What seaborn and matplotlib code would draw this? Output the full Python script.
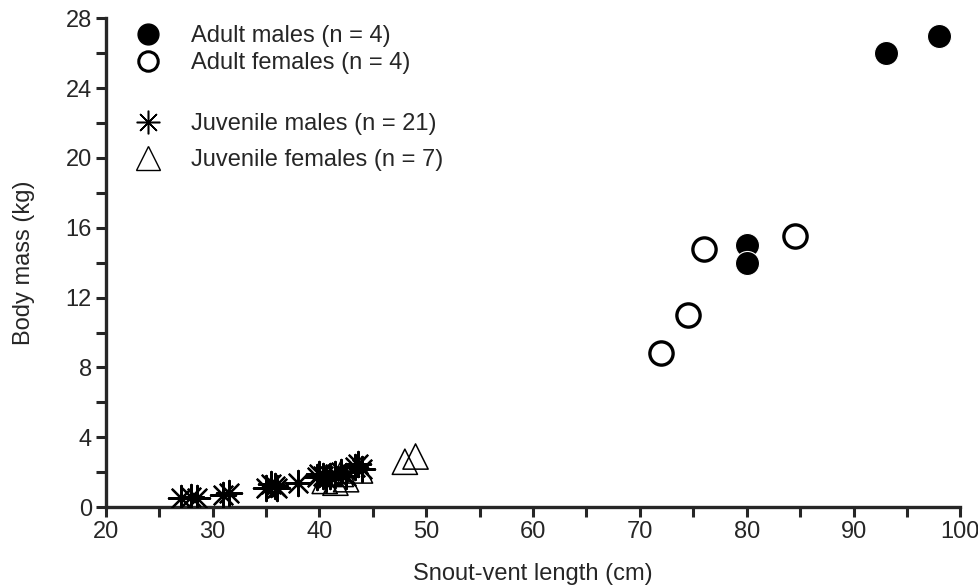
import seaborn as sns
import matplotlib.pyplot as plt
import pandas as pd
from matplotlib.lines import Line2D

# Snout-vent length (cm) and body mass (kg) per group
am_svl = [80, 80, 93, 98]
am_mass = [15.0, 14.0, 26.0, 27.0]

af_svl = [72, 74.5, 76, 84.5]
af_mass = [8.8, 11.0, 14.8, 15.5]

jm_svl = [27.0, 28.0, 28.5, 31.0, 31.5, 35.0, 35.5, 35.8, 36.0, 38.0, 39.8,
          40.0, 40.3, 40.6, 41.0, 41.5, 42.0, 42.5, 43.3, 43.6, 44.0]
jm_mass = [0.5, 0.6, 0.55, 0.7, 0.8, 1.1, 1.3, 1.2, 1.1, 1.4, 1.7,
           1.9, 1.8, 1.6, 1.8, 1.9, 2.0, 1.8, 2.3, 2.5, 2.2]

jf_svl = [40.5, 41.5, 42.0, 42.5, 43.8, 48.0, 49.0]
jf_mass = [1.5, 1.4, 1.9, 1.6, 2.1, 2.6, 2.9]

labels = ['Adult males (n = 4)', 'Adult females (n = 4)',
          'Juvenile males (n = 21)', 'Juvenile females (n = 7)']

sns.set_style('ticks')
plt.rcParams['font.family'] = ['Liberation Sans', 'DejaVu Sans']

fig = plt.figure(figsize=(9.79, 5.87), dpi=100)
ax = fig.add_axes([0.108, 0.136, 0.873, 0.833])

df_jm = pd.DataFrame({'svl': jm_svl, 'mass': jm_mass})
df_jf = pd.DataFrame({'svl': jf_svl, 'mass': jf_mass})
df_af = pd.DataFrame({'svl': af_svl, 'mass': af_mass})
df_am = pd.DataFrame({'svl': am_svl, 'mass': am_mass})

sns.scatterplot(data=df_jf, x='svl', y='mass', marker='^', s=330,
                facecolor='none', edgecolor='black', linewidth=1.1, ax=ax, zorder=3)
sns.scatterplot(data=df_jm, x='svl', y='mass', marker=(8, 2, 0), s=330,
                color='black', linewidth=1.6, ax=ax, zorder=4)
sns.scatterplot(data=df_af, x='svl', y='mass', marker='o', s=280,
                facecolor='white', edgecolor='black', linewidth=2.4, ax=ax, zorder=5)
sns.scatterplot(data=df_am, x='svl', y='mass', marker='o', s=300,
                color='black', edgecolor='white', linewidth=0.8, ax=ax, zorder=6)

ax.set_xlim(20, 100)
ax.set_ylim(0, 28)
ax.set_xticks(range(20, 101, 10))
ax.set_xticks(range(25, 100, 10), minor=True)
ax.set_yticks(range(0, 29, 4))
ax.set_yticks(range(2, 28, 4), minor=True)
ax.tick_params(which='both', direction='out', width=2.2, length=7,
               labelsize=17, pad=3)
for side in ['top', 'right']:
    ax.spines[side].set_visible(False)
for side in ['left', 'bottom']:
    ax.spines[side].set_linewidth(2.4)

ax.set_xlabel('Snout-vent length (cm)', fontsize=17, labelpad=14)
ax.set_ylabel('Body mass (kg)', fontsize=17, labelpad=22)

# legends: adults and juveniles in two blocks
h_adult = [
    Line2D([], [], marker='o', ls='none', color='black', markersize=15),
    Line2D([], [], marker='o', ls='none', markerfacecolor='white',
           markeredgecolor='black', markeredgewidth=2.2, markersize=14),
]
h_juv = [
    Line2D([], [], marker=(8, 2, 0), ls='none', color='black', markersize=17,
           markeredgewidth=1.1),
    Line2D([], [], marker='^', ls='none', markerfacecolor='none',
           markeredgecolor='black', markeredgewidth=1.0, markersize=17),
]
leg1 = ax.legend(h_adult, labels[:2], loc='upper left', bbox_to_anchor=(0.02, 1.005),
                 frameon=False, fontsize=17, handletextpad=1.2, labelspacing=0.2,
                 handlelength=1.3, borderaxespad=0)
ax.add_artist(leg1)
ax.legend(h_juv, labels[2:], loc='upper left', bbox_to_anchor=(0.02, 0.825),
          frameon=False, fontsize=17, handletextpad=1.2, labelspacing=0.6,
          handlelength=1.3, borderaxespad=0)

fig.savefig('out.png', dpi=100)
